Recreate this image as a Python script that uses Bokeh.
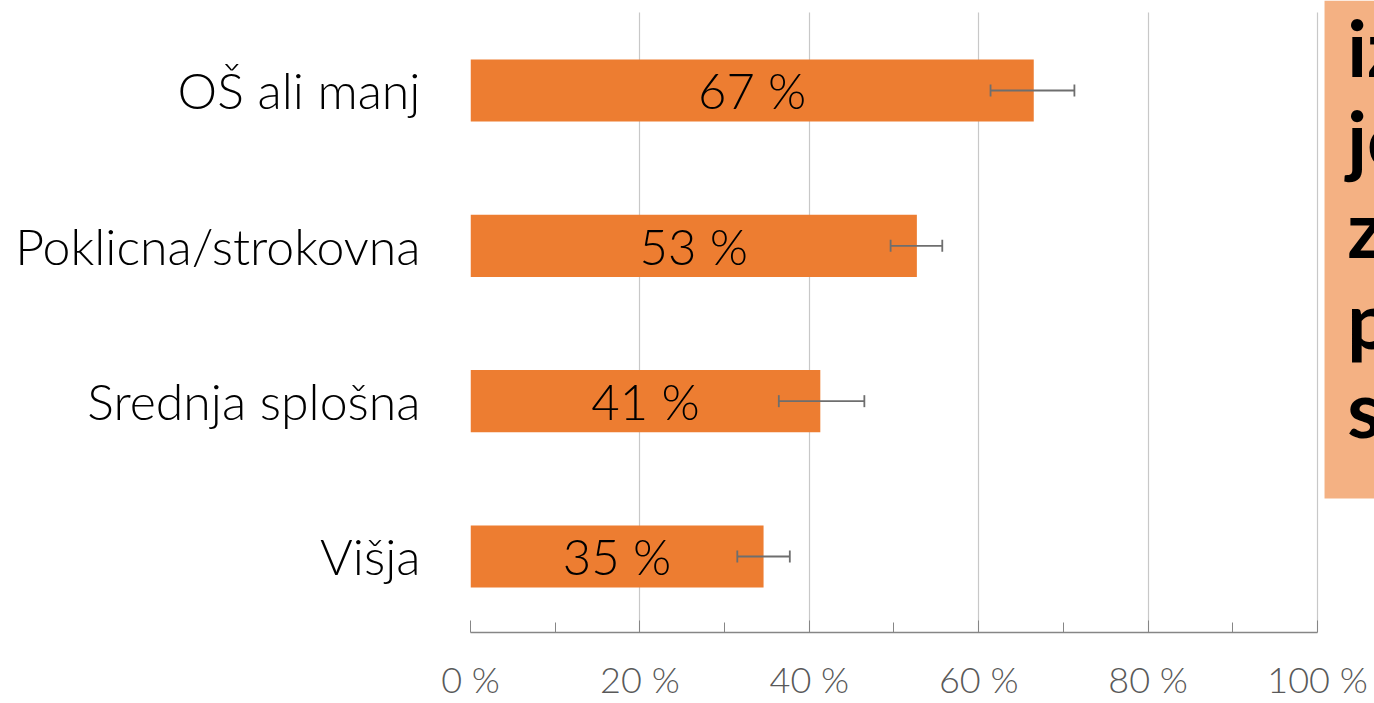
from bokeh.plotting import figure
from bokeh.models import (ColumnDataSource, Range1d, FixedTicker, Whisker, TeeHead,
                          BoxAnnotation, Label)
from bokeh.core.properties import value
from bokeh.embed import file_html
from bokeh.resources import INLINE

categories = ["OŠ ali manj", "Poklicna/strokovna", "Srednja splošna", "Višja"]
shares = [66.5, 52.7, 41.3, 34.6]
share_labels = ["67 %", "53 %", "41 %", "35 %"]
err_low = [61.4, 49.6, 36.4, 31.5]
err_high = [71.3, 55.7, 46.5, 37.7]
x_ticks = [0, 20, 40, 60, 80, 100]
x_tick_labels = ["0 %", "20 %", "40 %", "60 %", "80 %", "100 %"]
box_lines = ["iz", "je", "z", "p", "s"]

n = len(categories)
ypos = [n - 1 - i for i in range(n)]

src = ColumnDataSource(dict(
    y=ypos, share=shares, mid=[s / 2 for s in shares], lab=share_labels,
    lo=err_low, hi=err_high,
))

FONT = "Lato"
LIGHT = "Lato Light, Lato"

Y_BOTTOM, Y_TOP = -0.4893, 3.5794

p = figure(width=1374, height=703, output_backend="svg", toolbar_location=None,
           x_range=Range1d(0, 106.73), y_range=Range1d(Y_BOTTOM, Y_TOP),
           min_border_left=470, min_border_right=0, min_border_top=0,
           min_border_bottom=71)
p.outline_line_color = None
p.background_fill_color = "white"

# salmon side box (slide decoration)
p.add_layout(BoxAnnotation(left=100.83, bottom=0.373, fill_color="#F4B183",
                           fill_alpha=1.0, line_color=None, level="underlay"))
box_y = [3.277, 2.697, 2.118, 1.532, 0.959]
for t, yy in zip(box_lines, box_y):
    p.add_layout(Label(x=103.5, y=yy, text=t, text_font=FONT, text_font_style="bold",
                       text_font_size="78px", text_color="black",
                       text_baseline="alphabetic", text_align="left"))

p.hbar(y="y", left=0, right="share", height=0.4, source=src,
       fill_color="#ED7D31", line_color=None)

p.add_layout(Whisker(base="y", lower="lo", upper="hi", dimension="width", source=src,
                     line_color="#6E6E6E", line_width=1.8, level="overlay",
                     lower_head=TeeHead(size=12, line_color="#6E6E6E", line_width=1.8),
                     upper_head=TeeHead(size=12, line_color="#6E6E6E", line_width=1.8)))

p.text(x="mid", y="y", text="lab", source=src, text_align="center",
       text_baseline="middle", text_font=value(LIGHT), text_font_size="49px",
       text_color="black")

# x axis
xa = p.xaxis[0]
xa.ticker = FixedTicker(ticks=x_ticks, minor_ticks=[10, 30, 50, 70, 90])
xa.major_label_overrides = {t: l for t, l in zip(x_ticks, x_tick_labels)}
xa.bounds = (0, 100)
xa.axis_line_color = "#868686"
xa.axis_line_width = 1.5
xa.major_tick_line_color = "#868686"
xa.minor_tick_line_color = "#868686"
xa.major_tick_in = 12
xa.major_tick_out = 0
xa.minor_tick_in = 10
xa.minor_tick_out = 0
xa.major_label_standoff = 24
xa.major_label_text_font = LIGHT
xa.major_label_text_font_size = "36px"
xa.major_label_text_color = "#595959"

p.xgrid.ticker = FixedTicker(ticks=x_ticks)
p.xgrid.grid_line_color = "#C8C8C8"
p.xgrid.grid_line_width = 1.2
p.xgrid.bounds = (0, 100)
try:
    p.xgrid.cross_bounds = (Y_BOTTOM, 3.5016)
except Exception:
    pass
p.ygrid.grid_line_color = None

ya = p.yaxis[0]
ya.ticker = FixedTicker(ticks=ypos)
ya.major_label_overrides = {y: c for y, c in zip(ypos, categories)}
ya.axis_line_color = None
ya.major_tick_line_color = None
ya.minor_tick_line_color = None
ya.major_tick_in = 0
ya.major_tick_out = 0
ya.major_label_standoff = 50
ya.major_label_text_font = LIGHT
ya.major_label_text_font_size = "50px"
ya.major_label_text_color = "black"

open("out.html", "w").write(file_html(p, INLINE))
